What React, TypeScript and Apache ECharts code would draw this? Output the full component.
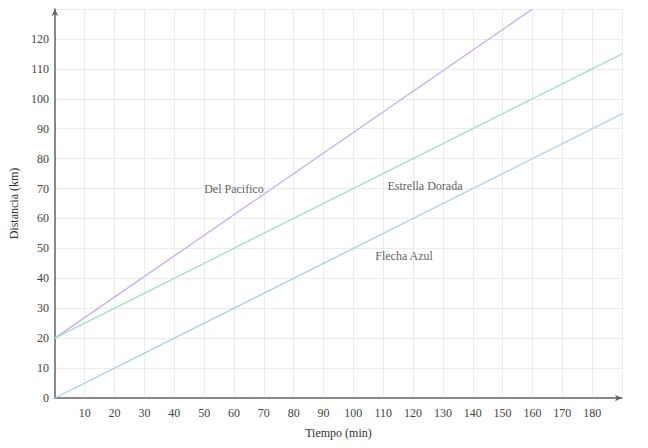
import React, { useEffect, useRef } from "react";
import * as echarts from "echarts";

const seriesNames = ["Del Pacifico", "Estrella Dorada", "Flecha Azul"];
const delPacifico: [number, number][] = [[0, 20], [160, 130]];
const estrellaDorada: [number, number][] = [[0, 20], [190, 115]];
const flechaAzul: [number, number][] = [[0, 0], [190, 95]];
const seriesColors = ["#c6acef", "#a3dfc4", "#a2cfea"];
const labelPoints: [number, number][] = [[60, 70], [124, 71], [117, 47.5]];

const xName = "Tiempo (min)";
const yName = "Distancia (km)";

export default function App() {
  const ref = useRef<HTMLDivElement>(null);
  useEffect(() => {
    if (!ref.current) return;
    const chart = echarts.init(ref.current, null, { renderer: "svg" });
    const font = "Liberation Serif";
    const lines = [delPacifico, estrellaDorada, flechaAzul];
    chart.setOption({
      animation: false,
      backgroundColor: "#ffffff",
      textStyle: { fontFamily: font },
      grid: { left: 52, right: 26, top: 9, bottom: 50 },
      xAxis: {
        type: "value",
        min: 0,
        max: 190,
        interval: 10,
        name: xName,
        nameLocation: "middle",
        nameGap: 29,
        nameTextStyle: { fontFamily: font, fontSize: 12, color: "#333" },
        axisLine: {
          show: true,
          lineStyle: { color: "#666", width: 1.5 },
          symbol: ["none", "arrow"],
          symbolSize: [5, 7],
        },
        axisTick: { show: false },
        axisLabel: {
          fontFamily: font,
          fontSize: 12,
          color: "#444",
          margin: 9,
          formatter: (v: number) => (v === 0 || v === 190 ? "" : String(v)),
        },
        splitLine: { show: true, lineStyle: { color: "#ececec", width: 1 } },
      },
      yAxis: {
        type: "value",
        min: 0,
        max: 130,
        interval: 10,
        name: yName,
        nameLocation: "middle",
        nameGap: 33,
        nameRotate: 90,
        nameTextStyle: { fontFamily: font, fontSize: 12, color: "#333" },
        axisLine: {
          show: true,
          lineStyle: { color: "#666", width: 1.5 },
          symbol: ["none", "arrow"],
          symbolSize: [5, 7],
        },
        axisTick: { show: false },
        axisLabel: {
          fontFamily: font,
          fontSize: 12,
          color: "#444",
          margin: 6,
          formatter: (v: number) => (v === 130 ? "" : String(v)),
        },
        splitLine: { show: true, lineStyle: { color: "#ececec", width: 1 } },
      },
      series: [
        ...lines.map((d, i) => ({
          type: "line",
          name: seriesNames[i],
          data: d,
          showSymbol: false,
          lineStyle: { color: seriesColors[i], width: 1.3 },
          itemStyle: { color: seriesColors[i] },
          clip: true,
        })),
        {
          type: "scatter",
          symbolSize: 0,
          data: labelPoints.map((p, i) => ({ value: p, name: seriesNames[i] })),
          label: {
            show: true,
            position: "inside",
            formatter: (p: any) => p.name,
            fontFamily: font,
            fontSize: 12,
            color: "#333",
          },
        },
      ],
    });
    return () => chart.dispose();
  }, []);
  return <div ref={ref} style={{ width: 648, height: 448, position: "absolute", left: 0, top: 0 }} />;
}
